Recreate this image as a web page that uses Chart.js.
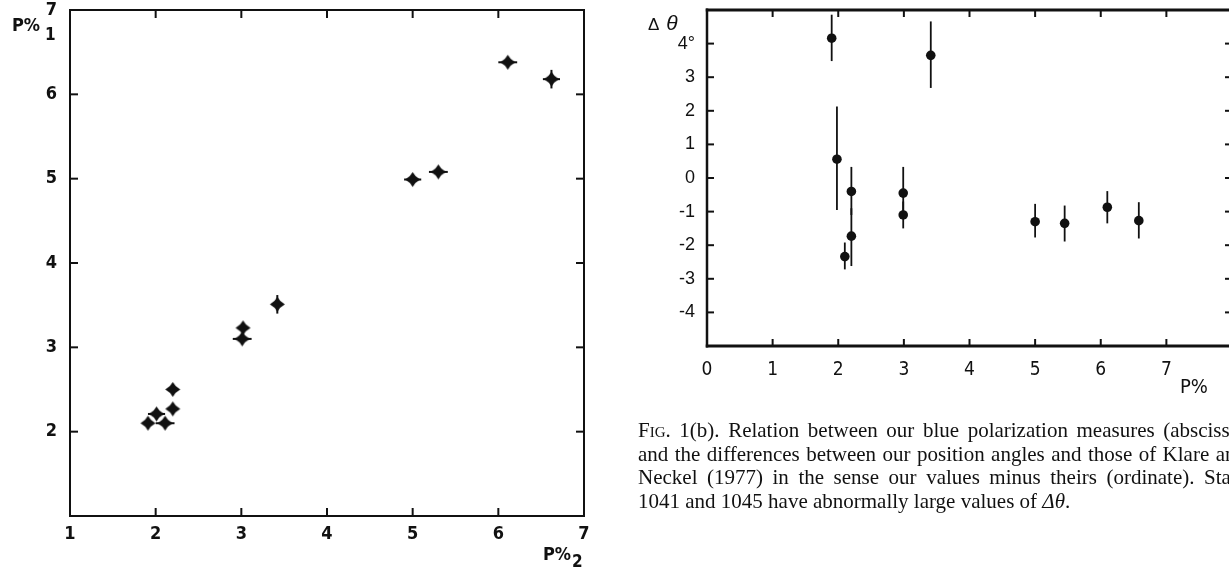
<!DOCTYPE html>
<html><head><meta charset="utf-8">
<script src="https://cdn.jsdelivr.net/npm/chart.js@4.4.1/dist/chart.umd.min.js"></script>
<style>
html,body{margin:0;padding:0;background:#fff;width:1229px;height:569px;overflow:hidden;}
body{position:relative;}
.box{position:absolute;}
.lbl{position:absolute;font-family:"Liberation Sans Narrow","DejaVu Sans Condensed","Liberation Sans",sans-serif;color:#111;white-space:nowrap;line-height:1;}
.sub{position:relative;top:9px;margin-left:5px;font-size:17px;}
.cap{position:absolute;left:638px;top:419px;font-family:"Liberation Serif","Times New Roman",serif;font-size:21px;line-height:23.5px;color:#111;}
.cap .j{width:608px;text-align:justify;text-align-last:justify;}
.cap .l{white-space:nowrap;}
.sc{font-variant:small-caps;}
</style></head>
<body>
<div class="box" style="left:0;top:0;width:600px;height:569px"><canvas id="c1" width="600" height="569"></canvas></div>
<div class="box" style="left:620px;top:0;width:640px;height:420px"><canvas id="c2" width="640" height="420"></canvas></div>

<div class="lbl" style="left:12px;top:16px;font-size:18px;font-weight:bold;">P%<span class="sub">1</span></div>
<div class="lbl" style="left:543px;top:545px;font-size:18px;font-weight:bold;">P%<span class="sub" style="margin-left:1px;top:7px;">2</span></div>
<div class="lbl" style="left:1180px;top:376px;font-size:20px;">P%</div>
<div class="lbl" style="left:648px;top:12px;font-family:'Liberation Sans',sans-serif;"><span style="font-size:17px;">&Delta;</span><i style="font-size:21px;margin-left:7px;">&theta;</i></div>

<div class="cap">
<div class="j"><span class="sc">Fig</span>. 1(b). Relation between our blue polarization measures (abscissa)</div>
<div class="j">and the differences between our position angles and those of Klare and</div>
<div class="j">Neckel (1977) in the sense our values minus theirs (ordinate). Stars</div>
<div class="l">1041 and 1045 have abnormally large values of <i>&Delta;&theta;</i>.</div>
</div>

<script>
// ---- Left panel data: P%1 (ordinate) vs P%2 (abscissa) ----
const leftX    = [6.11, 6.62, 5.00, 5.30, 3.42, 3.02, 3.01, 2.20, 2.20, 2.01, 1.91, 2.11];
const leftY    = [6.38, 6.18, 4.99, 5.08, 3.51, 3.23, 3.10, 2.50, 2.27, 2.21, 2.10, 2.10];
const leftXErr = [0.11, 0.10, 0.10, 0.11, 0.00, 0.00, 0.11, 0.00, 0.00, 0.10, 0.00, 0.11];
const leftYErr = [0.00, 0.11, 0.00, 0.00, 0.11, 0.00, 0.00, 0.00, 0.00, 0.00, 0.00, 0.00];
const leftXTicks = [1, 2, 3, 4, 5, 6, 7];
const leftYTicks = [2, 3, 4, 5, 6, 7];
const leftXMarks = [2, 3, 4, 5, 6];
const leftYMarks = [2, 3, 4, 5, 6];

// ---- Right panel data: delta theta vs P% ----
const rightX     = [1.90, 1.98, 2.10, 2.20, 2.20, 2.99, 2.99, 3.41, 5.00, 5.45, 6.10, 6.58];
const rightY     = [4.16, 0.56, -2.34, -0.40, -1.73, -0.45, -1.10, 3.65, -1.30, -1.35, -0.87, -1.27];
const rightYLow  = [3.48, -0.95, -2.72, -1.10, -2.62, -1.10, -1.50, 2.68, -1.77, -1.89, -1.35, -1.80];
const rightYHigh = [4.86, 2.13, -1.92, 0.33, -0.90, 0.33, -0.70, 4.66, -0.77, -0.82, -0.39, -0.72];
const rightXTicks = [0, 1, 2, 3, 4, 5, 6, 7];
const rightYTicks = [-4, -3, -2, -1, 0, 1, 2, 3, 4];
const rightXMarks = [1, 2, 3, 4, 5, 6, 7];
const rightYMarks = [-4, -3, -2, -1, 0, 1, 2, 3, 4];

const INK = '#111';
const condensed = '"Liberation Sans Narrow","DejaVu Sans Condensed","Liberation Sans",sans-serif';

function makeStar(r){
  const s = Math.ceil(2*r+2), c = document.createElement('canvas');
  c.width = s; c.height = s;
  const g = c.getContext('2d'), m = s/2, k = r*0.34;
  g.beginPath();
  g.moveTo(m, m-r);
  g.quadraticCurveTo(m+k, m-k, m+r, m);
  g.quadraticCurveTo(m+k, m+k, m, m+r);
  g.quadraticCurveTo(m-k, m+k, m-r, m);
  g.quadraticCurveTo(m-k, m-k, m, m-r);
  g.closePath(); g.fillStyle = INK; g.fill();
  return c;
}

function framePlugin(id, w, len, tickW, xMarks, yMarks){
  return {
    id,
    afterDraw(chart){
      const {ctx, chartArea:a, scales:{x, y}} = chart;
      const seg = (lw, x1, y1, x2, y2) => { ctx.lineWidth = lw; ctx.beginPath(); ctx.moveTo(x1, y1); ctx.lineTo(x2, y2); ctx.stroke(); };
      ctx.save(); ctx.strokeStyle = INK; ctx.lineCap = 'butt';
      seg(w.top, a.left - w.left/2, a.top, a.right + w.right/2, a.top);
      seg(w.bottom, a.left - w.left/2, a.bottom, a.right + w.right/2, a.bottom);
      seg(w.left, a.left, a.top - w.top/2, a.left, a.bottom + w.bottom/2);
      seg(w.right, a.right, a.top - w.top/2, a.right, a.bottom + w.bottom/2);
      xMarks.forEach(v => { const p = x.getPixelForValue(v); seg(tickW, p, a.top, p, a.top + len); seg(tickW, p, a.bottom, p, a.bottom - len); });
      yMarks.forEach(v => { const p = y.getPixelForValue(v); seg(tickW, a.left, p, a.left + len, p); seg(tickW, a.right, p, a.right - len, p); });
      ctx.restore();
    }
  };
}

const leftErr = {
  id:'leftErr',
  beforeDatasetsDraw(chart){
    const {ctx, scales:{x, y}} = chart;
    ctx.save(); ctx.strokeStyle = INK; ctx.lineWidth = 2;
    leftX.forEach((xv, i) => {
      const yv = leftY[i];
      if (leftXErr[i] > 0) { ctx.beginPath(); ctx.moveTo(x.getPixelForValue(xv - leftXErr[i]), y.getPixelForValue(yv)); ctx.lineTo(x.getPixelForValue(xv + leftXErr[i]), y.getPixelForValue(yv)); ctx.stroke(); }
      if (leftYErr[i] > 0) { ctx.beginPath(); ctx.moveTo(x.getPixelForValue(xv), y.getPixelForValue(yv - leftYErr[i])); ctx.lineTo(x.getPixelForValue(xv), y.getPixelForValue(yv + leftYErr[i])); ctx.stroke(); }
    });
    ctx.restore();
  }
};

const rightErr = {
  id:'rightErr',
  beforeDatasetsDraw(chart){
    const {ctx, scales:{x, y}} = chart;
    ctx.save(); ctx.strokeStyle = INK; ctx.lineWidth = 1.8;
    rightX.forEach((xv, i) => {
      const px = x.getPixelForValue(xv);
      ctx.beginPath(); ctx.moveTo(px, y.getPixelForValue(rightYLow[i])); ctx.lineTo(px, y.getPixelForValue(rightYHigh[i])); ctx.stroke();
    });
    ctx.restore();
  }
};

const noPad = s => { s.paddingTop = 0; s.paddingBottom = 0; s.paddingLeft = 0; s.paddingRight = 0; };
const star = makeStar(7.5);

new Chart(document.getElementById('c1'), {
  type: 'scatter',
  data: { datasets: [{
    data: leftX.map((v, i) => ({x: v, y: leftY[i]})),
    pointStyle: star, pointRadius: 7.5, pointHoverRadius: 7.5,
    backgroundColor: INK, borderColor: INK, borderWidth: 0
  }]},
  options: {
    responsive: false, animation: false, events: [],
    layout: { padding: { top: 10, right: 16, left: 0, bottom: 0 } },
    plugins: { legend: { display: false }, tooltip: { enabled: false } },
    scales: {
      x: { type: 'linear', min: 1, max: 7,
        afterBuildTicks: s => { s.ticks = leftXTicks.map(v => ({value: v})); },
        afterFit: s => { s.height = 53; noPad(s); },
        grid: { display: false }, border: { display: false },
        ticks: { color: INK, padding: 0, maxRotation: 0, autoSkip: false, font: { family: condensed, size: 18, weight: 'bold' } } },
      y: { type: 'linear', min: 1, max: 7,
        afterBuildTicks: s => { s.ticks = leftYTicks.map(v => ({value: v})); },
        afterFit: s => { s.width = 70; noPad(s); },
        grid: { display: false }, border: { display: false },
        ticks: { color: INK, padding: 5, autoSkip: false, font: { family: condensed, size: 18, weight: 'bold' } } }
    }
  },
  plugins: [leftErr, framePlugin('f1', {top: 2, bottom: 2.2, left: 2, right: 2}, 8, 2, leftXMarks, leftYMarks)]
});

new Chart(document.getElementById('c2'), {
  type: 'scatter',
  data: { datasets: [{
    data: rightX.map((v, i) => ({x: v, y: rightY[i]})),
    pointStyle: 'circle', pointRadius: 4.8, pointHoverRadius: 4.8,
    backgroundColor: INK, borderColor: INK, borderWidth: 0
  }]},
  options: {
    responsive: false, animation: false, events: [],
    layout: { padding: { top: 10, right: 28, left: 0, bottom: 0 } },
    plugins: { legend: { display: false }, tooltip: { enabled: false } },
    scales: {
      x: { type: 'linear', min: 0, max: 8,
        afterBuildTicks: s => { s.ticks = rightXTicks.map(v => ({value: v})); },
        afterFit: s => { s.height = 74; noPad(s); },
        grid: { display: false }, border: { display: false },
        ticks: { color: INK, padding: 5, maxRotation: 0, autoSkip: false, font: { family: condensed, size: 19, weight: 'normal' } } },
      y: { type: 'linear', min: -5, max: 5,
        afterBuildTicks: s => { s.ticks = rightYTicks.map(v => ({value: v})); },
        afterFit: s => { s.width = 87; noPad(s); },
        grid: { display: false }, border: { display: false },
        ticks: { color: INK, padding: 4, autoSkip: false,
          callback: v => (v === 4 ? '4°' : String(v)),
          font: { family: '"Liberation Sans",Arial,sans-serif', size: 18 } } }
    }
  },
  plugins: [rightErr, framePlugin('f2', {top: 3, bottom: 3, left: 2.5, right: 2.5}, 7, 2, rightXMarks, rightYMarks)]
});
</script>
</body></html>
